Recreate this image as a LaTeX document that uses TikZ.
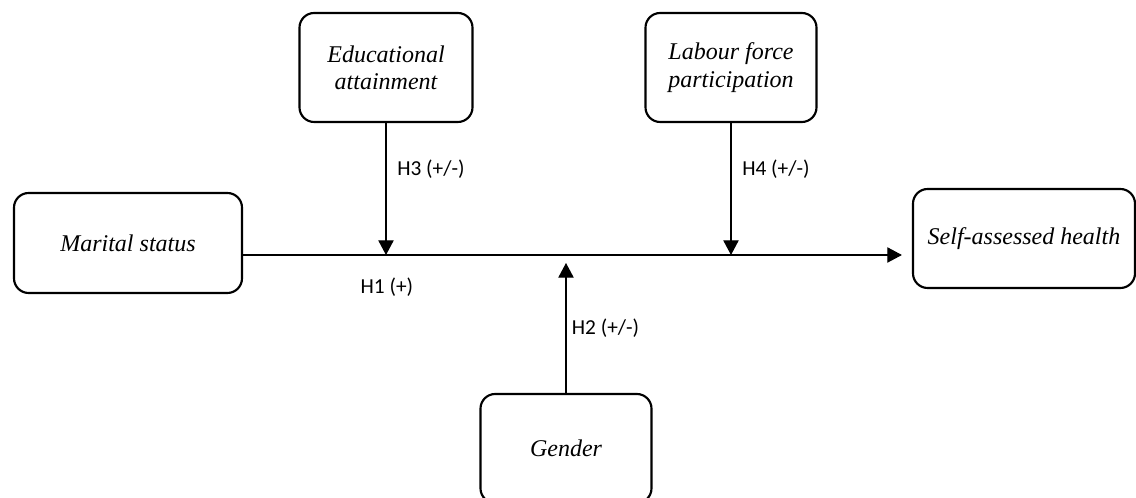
\documentclass[tikz,border=0pt]{standalone}
\usepackage{fontspec}
\newfontfamily\boxfont{Liberation Serif}
\newfontfamily\hypfont{Carlito}
\usepackage{tikz}
\usetikzlibrary{arrows.meta, positioning}

\begin{document}
\begin{tikzpicture}[
        x=0.75pt, y=-0.75pt,
        auto,
        block/.style={rectangle, draw, line width=1.6pt, rounded corners=11pt, align=center,
            font=\boxfont\itshape\fontsize{18pt}{20.5pt}\selectfont},
        hyp/.style={font=\hypfont\fontsize{16pt}{18pt}\selectfont, inner sep=2pt},
        line/.style={draw, line width=0.9pt, -{Triangle[length=11pt,width=11.5pt]}}
    ]
    \useasboundingbox (0,0) rectangle (1136,498);

    % Nodes
    \node [block, minimum width=171pt, minimum height=75pt] (marital) at (128,243) {Marital status};
    \node [block, minimum width=166.5pt, minimum height=74.25pt] (sah) at (1024,238.5) {Self-assessed health};
    \node [block, minimum width=129.75pt, minimum height=81.75pt] (edu) at (386,67.5) {Educational\\attainment};
    \node [block, minimum width=128.25pt, minimum height=81.75pt] (labour) at (731,67.5) {Labour force\\participation};
    \node [block, minimum width=128.25pt, minimum height=81.75pt] (gender) at (566,448.5) {Gender};

    % Axis points
    \coordinate (axis) at (0,255);
    \coordinate (gtip) at (0,263);

    % Edges
    \path [line, shorten >=7.5pt] (marital.east |- axis) -- node [hyp, pos=0.215, below=15pt] {H1 (+)} (sah.west |- axis);
    \path [line] (edu.south) -- node [hyp, pos=0.35, right=6pt] {H3 (+/-)} (edu.south |- axis);
    \path [line] (labour.south) -- node [hyp, pos=0.35, right=6pt] {H4 (+/-)} (labour.south |- axis);
    \path [line] (gender.north) -- node [hyp, pos=0.5, right=2pt] {H2 (+/-)} (gender.north |- gtip);

\end{tikzpicture}
\end{document}
